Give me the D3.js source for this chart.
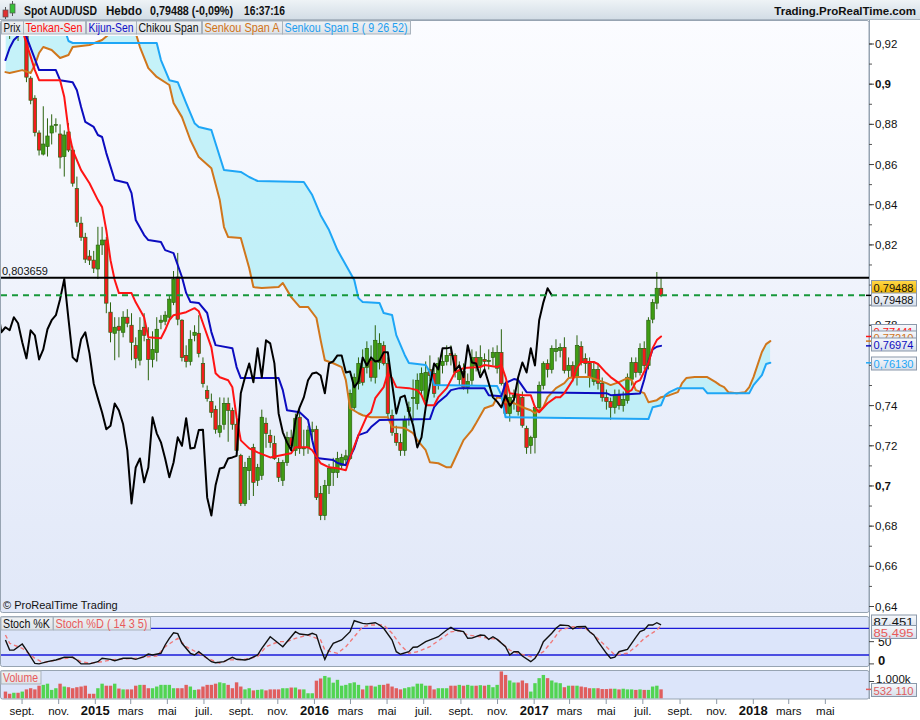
<!DOCTYPE html>
<html><head><meta charset="utf-8">
<script src="https://cdn.jsdelivr.net/npm/d3@7"></script>
<style>
html,body{margin:0;padding:0;background:#fff;}
svg{display:block;font-family:"Liberation Sans",Arial,sans-serif;}
</style></head><body>
<svg id="c" width="920" height="720"></svg>
<script>
// ---------------- DATA ----------------
const firstWeek = Date.UTC(2014, 7, 1);           // first weekly candle
const monthNames = ["janv.","févr.","mars","avr.","mai","juin","juil.","août","sept.","oct.","nov.","déc."];
const priceTicks = [0.64,0.66,0.68,0.70,0.72,0.74,0.78,0.82,0.84,0.86,0.88,0.90,0.92]; // 0,76 and 0,8 are hidden behind value boxes
const stochTicks = [0, 50];
// weekly candles [open, high, low, close]
const candles = [
[.9320,.9350,.9270,.9300],[.9300,.9340,.9225,.9290],[.9290,.9330,.9260,.9310],[.9310,.9330,.9215,.9300],[.9300,.9370,.9280,.9360],
[.9360,.9400,.9010,.9035],[.9030,.9040,.8900,.8920],[.8930,.8945,.8740,.8760],[.8757,.8770,.8645,.8672],[.8652,.8890,.8645,.8702],
[.8690,.8830,.8640,.8742],[.8757,.8850,.8700,.8792],[.8795,.8830,.8760,.8800],[.8752,.8800,.8580,.8637],[.8640,.8770,.8540,.8747],
[.8762,.8806,.8662,.8672],[.8672,.8690,.8490,.8507],[.8480,.8540,.8290,.8313],[.8308,.8340,.8220,.8238],[.8238,.8260,.8110,.8129],
[.8144,.8174,.8100,.8124],[.8124,.8170,.8060,.8084],[.8080,.8290,.8030,.8199],[.8200,.8290,.8150,.8224],[.8224,.8240,.7860,.7910],
[.7865,.7914,.7715,.7765],[.7760,.7840,.7626,.7790],[.7795,.7840,.7640,.7775],[.7765,.7870,.7740,.7840],[.7840,.7880,.7790,.7810],
[.7800,.7860,.7626,.7715],[.7700,.7740,.7586,.7635],[.7626,.7840,.7600,.7775],[.7790,.7860,.7720,.7750],[.7730,.7790,.7526,.7630],
[.7630,.7770,.7590,.7680],[.7665,.7840,.7620,.7780],[.7815,.7850,.7780,.7825],[.7820,.7870,.7800,.7850],[.7840,.7950,.7820,.7930],
[.7914,.8070,.7900,.8030],[.8040,.8160,.7800,.7830],[.7825,.7830,.7620,.7640],[.7650,.7700,.7590,.7620],[.7620,.7775,.7600,.7730],
[.7750,.7800,.7720,.7765],[.7760,.7850,.7640,.7660],[.7610,.7640,.7490,.7510],[.7476,.7500,.7420,.7436],[.7421,.7460,.7340,.7366],
[.7381,.7400,.7260,.7282],[.7267,.7441,.7242,.7300],[.7307,.7440,.7280,.7411],[.7411,.7440,.7220,.7376],[.7376,.7390,.7280,.7307],
[.7307,.7330,.7150,.7177],[.7152,.7160,.6900,.6913],[.6913,.7120,.6900,.7092],[.7077,.7150,.6930,.7137],[.7192,.7210,.6950,.7018],
[.7028,.7110,.7000,.7092],[.7053,.7380,.7030,.7342],[.7312,.7340,.7190,.7262],[.7252,.7280,.7190,.7217],[.7212,.7250,.7130,.7137],
[.7117,.7140,.7020,.7043],[.7028,.7130,.7000,.7117],[.7117,.7270,.7100,.7242],[.7240,.7280,.7180,.7200],[.7177,.7360,.7150,.7337],
[.7342,.7380,.7160,.7187],[.7187,.7280,.7150,.7190],[.7190,.7300,.7160,.7278],[.7270,.7320,.7230,.7280],[.7282,.7300,.6930,.6943],
[.6963,.7000,.6830,.6853],[.6853,.7030,.6830,.7003],[.7003,.7110,.6960,.7087],[.7067,.7140,.7000,.7092],[.7067,.7170,.7040,.7137],
[.7102,.7160,.7080,.7142],[.7130,.7180,.7100,.7150],[.7137,.7480,.7130,.7461],[.7391,.7560,.7380,.7541],[.7510,.7640,.7480,.7610],
[.7590,.7680,.7500,.7516],[.7590,.7720,.7560,.7685],[.7626,.7700,.7520,.7541],[.7541,.7800,.7510,.7725],[.7615,.7760,.7580,.7710],
[.7700,.7720,.7600,.7610],[.7610,.7640,.7340,.7361],[.7351,.7380,.7250,.7267],[.7262,.7300,.7200,.7217],[.7217,.7260,.7150,.7177],
[.7177,.7350,.7150,.7327],[.7371,.7420,.7300,.7391],[.7440,.7530,.7320,.7441],[.7411,.7560,.7380,.7526],[.7476,.7590,.7450,.7560],
[.7426,.7620,.7400,.7565],[.7580,.7650,.7520,.7550],[.7560,.7600,.7440,.7461],[.7500,.7640,.7480,.7610],[.7600,.7680,.7560,.7620],
[.7620,.7700,.7600,.7650],[.7660,.7700,.7600,.7650],[.7650,.7660,.7540,.7565],[.7530,.7620,.7500,.7570],[.7570,.7610,.7480,.7491],
[.7491,.7560,.7460,.7520],[.7526,.7680,.7500,.7640],[.7640,.7670,.7570,.7600],[.7600,.7700,.7560,.7640],[.7630,.7660,.7580,.7620],
[.7620,.7680,.7580,.7625],[.7640,.7690,.7600,.7665],[.7586,.7700,.7560,.7665],[.7665,.7780,.7500,.7510],[.7510,.7520,.7340,.7361],
[.7361,.7460,.7320,.7441],[.7441,.7480,.7380,.7450],[.7450,.7520,.7350,.7370],[.7441,.7470,.7290,.7302],[.7287,.7300,.7160,.7192],
[.7202,.7250,.7160,.7242],[.7242,.7400,.7162,.7391],[.7391,.7520,.7380,.7501],[.7501,.7620,.7480,.7610],[.7610,.7630,.7540,.7580],
[.7580,.7700,.7560,.7685],[.7670,.7730,.7620,.7685],[.7675,.7710,.7640,.7690],[.7690,.7740,.7560,.7575],[.7575,.7640,.7540,.7600],
[.7600,.7620,.7520,.7541],[.7541,.7750,.7500,.7700],[.7695,.7720,.7600,.7615],[.7635,.7660,.7560,.7610],[.7610,.7640,.7490,.7541],
[.7520,.7620,.7500,.7580],[.7580,.7610,.7480,.7511],[.7511,.7540,.7420,.7441],[.7441,.7480,.7380,.7420],[.7420,.7440,.7330,.7391],
[.7391,.7480,.7360,.7451],[.7451,.7480,.7380,.7400],[.7400,.7470,.7370,.7430],[.7426,.7560,.7410,.7541],[.7531,.7640,.7500,.7615],
[.7615,.7640,.7540,.7565],[.7565,.7710,.7550,.7685],[.7685,.7720,.7580,.7600],[.7600,.7840,.7580,.7825],[.7830,.7930,.7810,.7914],
[.7910,.8065,.7880,.7984],[.7984,.8034,.7940,.79488]
];
// weekly volume, millions
const volumes = [
.40,.27,.33,.33,.40,.53,.60,.53,.75,.80, .87,.50,.60,.87,.70,.66,.60,.66,.70,.75,
.27,.27,.60,.87,.75,.75,.87,.58,.53,.53, .53,.75,.80,.80,.60,.60,.70,.80,.80,.80,
.60,.60,.60,.80,.70,.50,.53,.70,.80,.80, .87,.95,.90,.80,.60,.95,.70,.53,.60,.47,
.50,.53,.47,.53,.53,.53,.60,.60,.64,.64, .53,.53,.30,.30,1.05,1.18,1.33,1.24,.93,1.10,
.75,.80,.90,.95,.80,.53,.75,.75,.70,.80, .80,.87,.70,.60,.53,.60,.66,.70,.87,.87,
.75,.75,.53,.60,.60,.60,.75,.75,.80,.75, .80,.75,.75,.78,.75,.80,.66,.80,1.60,1.39,
1.06,.94,.94,1.06,.90,.40,.90,1.20,1.39,1.20, 1.06,.94,.90,.66,.75,.75,.75,.70,.66,.60,
.60,.60,.55,.55,.57,.57,.53,.57,.53,.53, .50,.53,.50,.50,.70,.75,.53211
];
// Ichimoku lines, [week, value]
const tenkanPts = [[0,.932],[4,.927],[7,.907],[8,.902],[13,.902],[14,.8936],[15,.8771],[16,.8672],[18,.8572],[20,.8507],[22,.8423],[23,.8388],[24,.8273],[25,.8124],[26,.8025],[27,.7960],[30,.7960],[31,.7914],[33,.7840],[34,.7740],[37,.7735],[38,.7776],[39,.7826],[40,.7850],[43,.7865],[45,.7885],[46,.7870],[47,.7810],[49,.7690],[50,.7561],[51,.7541],[53,.7526],[54,.7491],[55,.7342],[56,.7227],[58,.7187],[60,.7167],[63,.7142],[65,.7150],[68,.7163],[69,.7193],[72,.7193],[73,.7178],[75,.7113],[77,.7093],[79,.7088],[81,.7078],[82,.7143],[84,.7253],[86,.7348],[87,.7367],[88,.7437],[90,.7492],[91,.7562],[92,.7537],[93,.7492],[96,.7487],[98,.7477],[99,.7452],[100,.7402],[102,.7402],[103,.7442],[105,.7487],[106,.7527],[107,.7567],[109,.7587],[113,.7592],[114,.7602],[117,.7592],[118,.7602],[119,.7542],[120,.7462],[123,.7452],[125,.7452],[126,.7392],[127,.7367],[129,.7412],[131,.7442],[132,.7442],[133,.7462],[135,.7527],[136,.7587],[137,.7617],[140,.7617],[141,.7607],[143,.7562],[144,.7542],[146,.7512],[148,.7467],[149,.7477],[150,.7517],[151,.7527],[153,.7612],[154,.7686],[155,.7726],[156,.77441]];
const kijunPts = [[0,.912],[1,.918],[2,.922],[4,.926],[5,.9235],[8,.907],[12,.907],[13,.902],[16,.901],[17,.897],[18,.8886],[19,.8812],[21,.8787],[22,.8747],[23,.8737],[24,.8657],[26,.8523],[29,.8508],[30,.8458],[31,.8324],[33,.8249],[34,.8224],[37,.8214],[38,.8174],[40,.8159],[42,.8040],[43,.7961],[44,.7916],[46,.7911],[48,.7861],[49,.7766],[50,.7701],[54,.7686],[55,.7592],[56,.7537],[65,.7537],[66,.7477],[67,.7377],[70,.7367],[72,.7328],[73,.7228],[74,.7139],[78,.7129],[79,.7114],[81,.7103],[83,.7188],[84,.7253],[86,.7268],[87,.7293],[89,.7328],[101,.7333],[102,.7392],[103,.7417],[105,.7452],[106,.7477],[108,.7487],[114,.7487],[115,.7452],[118,.7447],[119,.7512],[121,.7532],[122,.7527],[124,.7467],[143,.7462],[144,.7452],[151,.7460],[152,.7530],[153,.7620],[154,.7680],[155,.7693],[156,.76974]];
const senkouAPts = [[0,.906],[1,.9056],[4,.907],[6,.9056],[7,.9095],[8,.9155],[9,.9185],[11,.917],[13,.913],[15,.9145],[16,.9185],[20,.9195],[23,.922],[25,.9255],[28,.930],[31,.9255],[32,.9185],[34,.908],[36,.9036],[39,.8996],[40,.8906],[42,.8836],[44,.8722],[46,.8637],[49,.8582],[51,.8423],[52,.8289],[53,.8239],[56,.8234],[58,.8085],[59,.7990],[61,.7985],[65,.7990],[66,.8010],[68,.7940],[70,.7891],[72,.7891],[74,.7836],[75,.7726],[76,.7626],[78,.7611],[80,.7592],[81,.7527],[82,.7387],[84,.7362],[85,.7352],[87,.7342],[91,.7342],[92,.7293],[95,.7288],[97,.7263],[98,.7228],[100,.7178],[101,.7118],[103,.7113],[105,.7093],[106,.7093],[107,.7138],[109,.7228],[111,.7278],[112,.7313],[114,.7387],[116,.7402],[117,.7442],[118,.7437],[119,.7417],[121,.7412],[123,.7392],[125,.7377],[126,.7362],[128,.7392],[129,.7442],[131,.7487],[133,.7512],[134,.7537],[136,.7542],[139,.7542],[141,.7527],[143,.7512],[144,.7502],[146,.7517],[148,.7537],[149,.7527],[150,.7477],[152,.7462],[153,.7417],[155,.7427],[156,.7442],[158,.7452],[160,.7467],[161,.7512],[162,.7537],[164,.7542],[167,.7542],[169,.7517],[170,.7502],[171,.7492],[172,.7467],[174,.7462],[176,.7467],[177,.7492],[178,.7542],[180,.7667],[181,.7706],[182,.7721]];
const senkouBPts = [[0,.930],[14,.928],[15,.9215],[16,.9205],[36,.9205],[37,.9120],[39,.902],[41,.901],[43,.8906],[45,.8806],[46,.8787],[49,.8772],[52,.8573],[56,.8563],[58,.8538],[60,.8518],[71,.8513],[73,.8448],[75,.8348],[77,.8274],[79,.8174],[81,.8100],[83,.8025],[84,.7935],[85,.7916],[89,.7911],[90,.7861],[92,.7851],[93,.7751],[95,.7652],[96,.7612],[100,.7602],[101,.7567],[102,.7502],[117,.7497],[118,.7452],[119,.7342],[153,.7333],[154,.7392],[156,.7402],[157,.7452],[158,.7467],[160,.7487],[166,.7487],[167,.7462],[177,.7462],[178,.7502],[180,.7552],[181,.7607],[182,.76130]];
const chikouShift = 26;
const hLineValue = 0.803659;
const lastClose = 0.79488;
// Stochastic (14 3 5), [week, value]
const stochKPts = [[0,53.7],[1,31],[2,31],[4,44.7],[5,31],[7,1.3],[8,0],[10,5],[12,8.8],[14,14.8],[16,14.8],[17,8.8],[18,0],[20,0],[22,5],[23,12.6],[25,10.3],[26,7.2],[28,12.6],[30,12.6],[31,10.3],[33,16.2],[34,22],[35,20],[37,23.8],[38,42.5],[39,57.5],[40,70],[41,68],[42,46.3],[44,23.8],[45,20],[46,27.4],[47,20],[49,5],[50,2.7],[52,5],[53,10.3],[54,14.8],[55,10.3],[57,8.8],[58,11],[60,20],[61,35],[63,61],[64,53.7],[66,38.6],[67,49.9],[69,72.4],[70,67.2],[72,65],[73,68.8],[74,65],[75,35],[76,10.3],[77,31],[78,46.3],[80,53.7],[82,72.4],[83,97],[85,91],[86,90],[88,92.6],[89,87.4],[90,80],[92,53.7],[93,27.4],[94,21.6],[96,27.4],[97,37.3],[98,38],[100,49.9],[102,57.5],[103,61],[105,76.2],[106,82],[107,76.2],[109,72.4],[110,57.5],[111,58],[113,65],[114,64],[115,55],[116,61],[117,55],[119,38.6],[120,20],[121,27.4],[122,27.4],[123,17.7],[125,5],[126,12.6],[127,27.4],[128,50],[130,68.8],[131,80],[132,87.4],[134,86],[135,78.4],[136,83.6],[138,84],[139,72.4],[140,65],[141,50],[143,23.8],[144,12.6],[145,15],[146,27.4],[148,32.8],[149,46.3],[150,59.8],[151,72.4],[152,76.2],[153,87.4],[154,87.4],[155,92.6],[156,87.451]];
const stochDPts = [[0,65],[1,46.3],[4,35],[7,12.6],[9,2.7],[12,8.8],[16,14.8],[18,5],[20,1.3],[23,5],[25,8.8],[27,10.3],[31,12.6],[34,16.2],[36,17.7],[38,38.6],[41,57.5],[43,38.6],[46,23.8],[48,12.6],[51,1.3],[53,8.8],[57,10.3],[60,16.2],[62,38.6],[65,50],[67,50],[69,57.5],[72,65],[75,53.7],[76,31],[79,23.8],[81,38.6],[83,61],[85,83.6],[87,87.4],[90,87.4],[92,68.8],[94,42.5],[96,23.8],[98,27.4],[101,38.6],[103,52],[106,72],[108,74.6],[110,65],[113,61],[115,57.5],[117,56],[120,31],[122,23.8],[125,16.2],[126,16.2],[128,27.4],[130,50],[132,76.2],[135,83.6],[138,80],[140,65],[143,38.6],[145,20],[148,23.8],[150,38.6],[152,57.5],[155,76.2],[156,85.495]];
const stochLevels = [80, 20];

// ---------------- LAYOUT ----------------
const svg = d3.select("#c");
const W = 920, plotRight = 869;
const P = {top: 20, bottom: 612};            // price panel
const S = {top: 616, bottom: 666};           // stoch panel
const V = {top: 670, bottom: 698.5};         // volume panel
const DAY = 864e5;
const weekDate = i => new Date(firstWeek + i * 7 * DAY);

const x = d3.scaleUtc()
  .domain([new Date(Date.UTC(2015,0,1)), new Date(Date.UTC(2018,0,1))])
  .range([97.3, 755.3]);
const xi = i => x(weekDate(i));
const y = d3.scaleLinear().domain([0.64, 0.92]).range([606.5, 44]);
const ys = d3.scaleLinear().domain([0, 100]).range([663.9, 619.4]);
const yv = d3.scaleLinear().domain([0, 1]).range([698.3, 681.5]);
const fmt = v => String(+v.toFixed(6)).replace(".", ",");
const fmt5 = v => v.toFixed(5).replace(".", ",");
const fmt3 = v => v.toFixed(3).replace(".", ",");

const defs = svg.append("defs");
function vgrad(id, c1, c2) {
  const g = defs.append("linearGradient").attr("id", id).attr("x1",0).attr("y1",0).attr("x2",0).attr("y2",1);
  g.append("stop").attr("offset","0%").attr("stop-color",c1);
  g.append("stop").attr("offset","100%").attr("stop-color",c2);
}
vgrad("gHead", "#eef3f6", "#d3dde6");
vgrad("gPrice", "#fbfcff", "#e1e8f8");
vgrad("gBtn", "#f0f2f4", "#dde2e7");
vgrad("gBox", "#f7f9fc", "#d6deea");
vgrad("gGold", "#ffd84a", "#f0b400");

defs.append("clipPath").attr("id","clipP").append("rect")
  .attr("x",1).attr("y",36).attr("width",plotRight-1).attr("height",P.bottom-36);
defs.append("clipPath").attr("id","clipS").append("rect")
  .attr("x",1).attr("y",S.top).attr("width",plotRight-1).attr("height",S.bottom-S.top);

// header
svg.append("rect").attr("x",0).attr("y",0).attr("width",W).attr("height",19).attr("fill","url(#gHead)");
svg.append("line").attr("x1",0).attr("x2",W).attr("y1",19.5).attr("y2",19.5).attr("stroke","#aab6c2");
// small candle icon
svg.append("line").attr("x1",5.5).attr("x2",5.5).attr("y1",7).attr("y2",19).attr("stroke","#555");
svg.append("rect").attr("x",3).attr("y",10).attr("width",5).attr("height",7).attr("fill","#e03030").attr("stroke","#555").attr("stroke-width",0.7);
svg.append("line").attr("x1",12.5).attr("x2",12.5).attr("y1",1).attr("y2",16).attr("stroke","#555");
svg.append("rect").attr("x",10).attr("y",4).attr("width",5).attr("height",9).attr("fill","#38c038").attr("stroke","#555").attr("stroke-width",0.7);
const head = [["Spot AUD/USD",24,73],["Hebdo",106,36],["0,79488 (-0,09%)",150,83],["16:37:16",244,41]];
head.forEach(([t,px,w]) => svg.append("text").attr("x",px).attr("y",15).attr("font-size",12.5).attr("font-weight","bold")
  .attr("fill","#111").attr("textLength",w).attr("lengthAdjust","spacingAndGlyphs").text(t));
svg.append("text").attr("x",916).attr("y",15).attr("text-anchor","end").attr("font-size",11.5).attr("font-weight","bold")
  .attr("fill","#111").text("Trading.ProRealTime.com");

// panels
function panel(t, b, fill) {
  svg.append("rect").attr("x",0.5).attr("y",t+0.5).attr("width",plotRight-0.5).attr("height",b-t)
    .attr("rx",2).attr("fill",fill).attr("stroke","#97a4b2");
}
panel(P.top, P.bottom, "url(#gPrice)");
panel(S.top, S.bottom, "#dce5fa");
panel(V.top, V.bottom, "#dce5fa");

// ---------------- PRICE PANEL ----------------
const gp = svg.append("g").attr("clip-path","url(#clipP)");
const top0 = 0, bot0 = 720;
const areaUnder = d3.area().x(d => xi(d[0])).y0(bot0).y1(d => y(d[1]));
const areaOver = d3.area().x(d => xi(d[0])).y0(top0).y1(d => y(d[1]));
defs.append("clipPath").attr("id","overB").append("path").attr("d", areaOver(senkouBPts));
defs.append("clipPath").attr("id","overA").append("path").attr("d", areaOver(senkouAPts));
const cloudFill = "#b0eef7";
gp.append("g").attr("clip-path","url(#overB)").append("path").attr("d", areaUnder(senkouAPts))
  .attr("fill", cloudFill).attr("fill-opacity",0.72);
gp.append("g").attr("clip-path","url(#overA)").append("path").attr("d", areaUnder(senkouBPts))
  .attr("fill", cloudFill).attr("fill-opacity",0.72);

// candles
const wickCol = "#2c6410";
const cg = gp.append("g");
candles.forEach((c, i) => {
  const [o,h,l,cl] = c;
  const cx = xi(i);
  cg.append("line").attr("x1",cx).attr("x2",cx).attr("y1",y(h)).attr("y2",y(l)).attr("stroke",wickCol).attr("stroke-width",1);
  const y1 = y(Math.max(o,cl)), y2 = y(Math.min(o,cl));
  cg.append("rect").attr("x",cx-1.7).attr("y",y1).attr("width",3.4).attr("height",Math.max(1,y2-y1))
    .attr("fill", cl >= o ? "#3f9c14" : "#f41c1c").attr("stroke",wickCol).attr("stroke-width",0.7);
});

const line = d3.line().x(d => xi(d[0])).y(d => y(d[1]));
function drawLine(pts, col, w) {
  gp.append("path").attr("d", line(pts)).attr("fill","none").attr("stroke",col)
    .attr("stroke-width",w).attr("stroke-linejoin","round").attr("stroke-linecap","round");
}
drawLine(senkouAPts, "#d0761c", 2);
drawLine(senkouBPts, "#1ea6f6", 2);
drawLine(kijunPts, "#0c0cbf", 2);
drawLine(tenkanPts, "#ff1414", 2);
// chikou: closes displaced back
const chikou = candles.map((c, i) => [i - chikouShift, c[3]]);
drawLine(chikou, "#000000", 2);

// horizontal lines
svg.append("line").attr("x1",1).attr("x2",plotRight).attr("y1",y(hLineValue)).attr("y2",y(hLineValue))
  .attr("stroke","#000").attr("stroke-width",2);
svg.append("line").attr("x1",1).attr("x2",plotRight).attr("y1",y(lastClose)).attr("y2",y(lastClose))
  .attr("stroke","#17983a").attr("stroke-width",2).attr("stroke-dasharray","6,5");
svg.append("text").attr("x",2).attr("y",y(hLineValue)-3).attr("font-size",11).attr("fill","#111").text(fmt(hLineValue));
svg.append("text").attr("x",3).attr("y",609).attr("font-size",11).attr("fill","#111").text("© ProRealTime Trading");

// legend buttons
function button(px, w, py, t, col) {
  svg.append("rect").attr("x",px+0.5).attr("y",py+0.5).attr("width",w).attr("height",13)
    .attr("fill","url(#gBtn)").attr("stroke","#a9b3bd");
  svg.append("text").attr("x",px+2.5).attr("y",py+11).attr("font-size",12).attr("fill",col)
    .attr("textLength",w-5).attr("lengthAdjust","spacingAndGlyphs").text(t);
}
button(1, 22, 20.5, "Prix", "#111");
button(23, 62, 20.5, "Tenkan-Sen", "#ff1010");
button(86, 50, 20.5, "Kijun-Sen", "#1010c8");
button(136, 65, 20.5, "Chikou Span", "#111");
button(202, 80, 20.5, "Senkou Span A", "#d07318");
button(282, 128, 20.5, "Senkou Span B ( 9 26 52)", "#1e9ef0");

// price axis
svg.append("line").attr("x1",plotRight+0.5).attr("x2",plotRight+0.5).attr("y1",20).attr("y2",699).attr("stroke","#97a4b2");
d3.range(0.64, 0.925, 0.01).forEach(v => {
  svg.append("line").attr("x1",plotRight).attr("x2",plotRight+3).attr("y1",y(v)).attr("y2",y(v)).attr("stroke","#555");
});
priceTicks.forEach(v => {
  svg.append("line").attr("x1",plotRight).attr("x2",plotRight+5).attr("y1",y(v)).attr("y2",y(v)).attr("stroke","#444");
  const bold = Math.abs(v*10 - Math.round(v*10)) < 1e-6;
  svg.append("text").attr("x",875).attr("y",y(v)+4).attr("font-size",11.5)
    .attr("font-weight", bold ? "bold" : "normal").attr("fill","#111").text(fmt(v));
});
// value boxes
function box(cy, t, col, fill) {
  svg.append("rect").attr("x",871.5).attr("y",cy-6.5).attr("width",45).attr("height",13)
    .attr("fill",fill).attr("stroke","#8a98aa");
  svg.append("text").attr("x",873.5).attr("y",cy+4.5).attr("font-size",11.5).attr("fill",col)
    .attr("textLength",40).attr("lengthAdjust","spacingAndGlyphs").text(t);
}
const last = a => a[a.length-1][1];
const marks = [[lastClose,"#000"],[last(tenkanPts),"#ff1414"],[last(senkouAPts),"#d0761c"],[last(kijunPts),"#0c0cbf"],[last(senkouBPts),"#1ea6f6"]];
marks.forEach(([v,c]) => svg.append("line").attr("x1",866).attr("x2",872).attr("y1",y(v)).attr("y2",y(v)).attr("stroke",c).attr("stroke-width",1.5));
box(287, fmt5(lastClose), "#111", "url(#gGold)");
box(299.5, fmt5(lastClose), "#111", "url(#gBox)");
box(331, fmt5(last(tenkanPts)), "#ff1414", "url(#gBox)");
box(337.5, fmt5(last(senkouAPts)), "#d0761c", "url(#gBox)");
box(344.5, fmt5(last(kijunPts)), "#0c0cbf", "url(#gBox)");
box(363.5, fmt5(last(senkouBPts)), "#1ea6f6", "url(#gBox)");

// ---------------- STOCH PANEL ----------------
const gs = svg.append("g").attr("clip-path","url(#clipS)");
stochLevels.forEach(v => gs.append("line").attr("x1",1).attr("x2",plotRight).attr("y1",ys(v)).attr("y2",ys(v))
  .attr("stroke","#1a1ad8").attr("stroke-width",1.3));
const sline = d3.line().x(d => xi(d[0])).y(d => ys(d[1]));
gs.append("path").attr("d", sline(stochDPts)).attr("fill","none").attr("stroke","#f07878")
  .attr("stroke-width",1.4).attr("stroke-dasharray","4,3");
gs.append("path").attr("d", sline(stochKPts)).attr("fill","none").attr("stroke","#111").attr("stroke-width",1.4);
button(0.5, 52, 616.5, "Stoch %K", "#111");
button(53, 97, 616.5, "Stoch %D ( 14 3 5)", "#e85a5a");
stochTicks.forEach(v => {
  svg.append("line").attr("x1",plotRight).attr("x2",plotRight+5).attr("y1",ys(v)).attr("y2",ys(v)).attr("stroke","#444");
  svg.append("text").attr("x",878).attr("y", v === 0 ? ys(v)+1 : ys(v)+4).attr("font-size",v===0?13:12)
    .attr("font-weight", v === 0 ? "bold" : "normal").attr("fill","#111").text(String(v));
});
box(621.5, fmt3(last(stochKPts)), "#111", "url(#gBox)");
box(632, fmt3(last(stochDPts)), "#e85a5a", "url(#gBox)");

// ---------------- VOLUME PANEL ----------------
const gv = svg.append("g");
volumes.forEach((v, i) => {
  const c = candles[i];
  gv.append("rect").attr("x", xi(i)-1.7).attr("y", yv(v)).attr("width",3.4).attr("height", yv(0)-yv(v))
    .attr("fill", c[3] >= c[0] ? "#52d452" : "#e05e5e");
});
button(0.5, 40, 670.5, "Volume", "#e85a5a");
svg.append("line").attr("x1",plotRight).attr("x2",plotRight+5).attr("y1",yv(1)).attr("y2",yv(1)).attr("stroke","#444");
svg.append("text").attr("x",876).attr("y",yv(1)+1).attr("font-size",11.5).attr("fill","#111").text("1.000k");
const lastVol = volumes[volumes.length-1];
svg.append("line").attr("x1",866).attr("x2",872).attr("y1",yv(lastVol)).attr("y2",yv(lastVol)).attr("stroke","#e05e5e").attr("stroke-width",1.5);
box(690, d3.format(",")(Math.round(lastVol*1e6)).replace(",", " "), "#e05e5e", "url(#gBox)");

// ---------------- TIME AXIS ----------------
const months = d3.utcMonth.every(2).range(new Date(Date.UTC(2014,7,15)), new Date(Date.UTC(2018,5,15)));
months.forEach(d => {
  const px = x(d) - 2;
  svg.append("line").attr("x1",px).attr("x2",px).attr("y1",699).attr("y2",704).attr("stroke","#8d99a7");
  const m = d.getUTCMonth();
  svg.append("text").attr("x",px).attr("y",715).attr("text-anchor","middle")
    .attr("font-size", m === 0 ? 13 : 11.5).attr("font-weight", m === 0 ? "bold" : "normal").attr("fill","#111")
    .text(m === 0 ? String(d.getUTCFullYear()) : monthNames[m]);
});
</script>
</body></html>
